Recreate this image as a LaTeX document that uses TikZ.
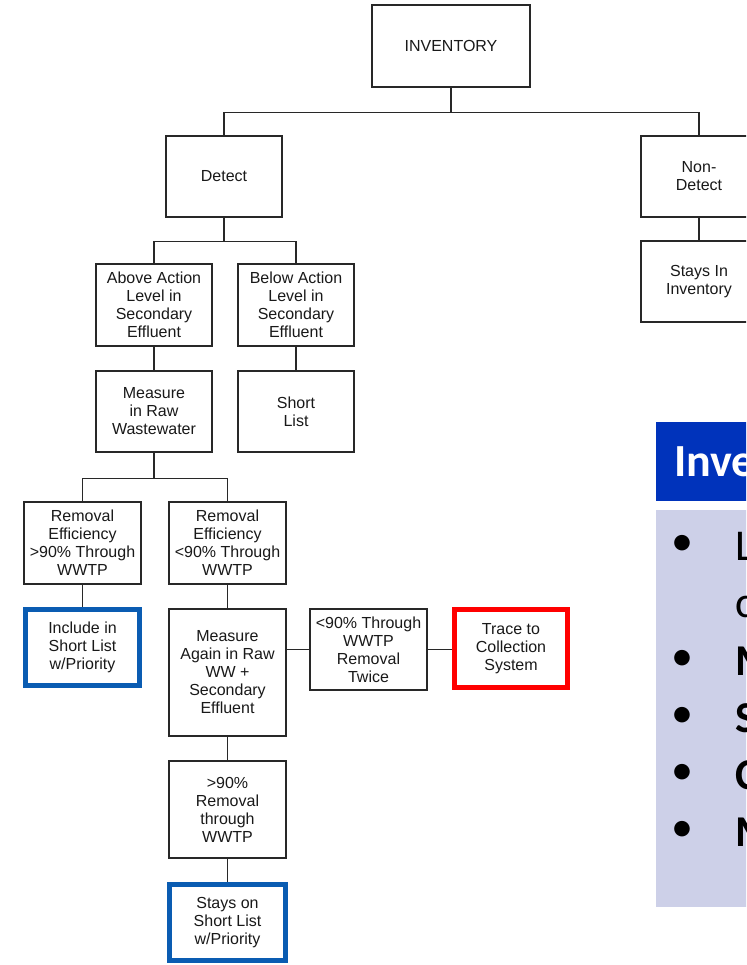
\documentclass[tikz,border=0pt]{standalone}
\usepackage{fontspec}
\setmainfont{Liberation Sans}
\newfontfamily\calib{Carlito}
\definecolor{blueb}{RGB}{10,92,178}
\definecolor{hdrblue}{RGB}{0,51,187}
\definecolor{lav}{RGB}{205,208,232}
\definecolor{ink}{RGB}{40,40,40}
\begin{document}
\begin{tikzpicture}[x=1pt,y=-1pt,
  box/.style={draw=ink, line width=1.4pt, rectangle, inner sep=0pt, align=center,
    font=\fontsize{16}{18}\selectfont, text=black!90},
  bluebox/.style={box, draw=blueb, line width=5pt},
  redbox/.style={box, draw=red, line width=5pt},
  link/.style={draw=ink, line width=1.4pt},
  bul/.style={anchor=base, inner sep=0pt, font=\calib\fontsize{44}{50}\selectfont},
  ptxt/.style={anchor=base west, inner sep=0pt, font=\calib\fontsize{44}{50}\selectfont},
  ptxtb/.style={ptxt, font=\calib\bfseries\fontsize{44}{50}\selectfont}]
\useasboundingbox (0,0) rectangle (746,965);
\fill[white] (0,0) rectangle (746,965);
\clip (0,0) rectangle (746,965);

% flowchart boxes
\node[box, minimum width=158, minimum height=82] (inv) at (451,46) {INVENTORY};
\node[box, minimum width=116, minimum height=81] (det) at (224,176.5) {Detect};
\node[box, minimum width=116, minimum height=81] (nond) at (699,176.5) {Non-\\Detect};
\node[box, minimum width=116, minimum height=81] (stays) at (699,281.5) {Stays In\\Inventory};
\node[box, minimum width=116, minimum height=82] (above) at (154,305) {Above Action\\Level in\\Secondary\\Effluent};
\node[box, minimum width=116, minimum height=82] (below) at (296,305) {Below Action\\Level in\\Secondary\\Effluent};
\node[box, minimum width=116, minimum height=81] (meas) at (154,411.5) {Measure\\in Raw\\Wastewater};
\node[box, minimum width=116, minimum height=81] (short) at (296,411.5) {Short\\List};
\node[box, minimum width=117, minimum height=82] (rem1) at (82.5,543) {Removal\\Efficiency\\>90\% Through\\WWTP};
\node[box, minimum width=117, minimum height=82] (rem2) at (227.5,543) {Removal\\Efficiency\\<90\% Through\\WWTP};
\node[bluebox, minimum width=114, minimum height=76] (incl) at (82.5,647.5) {Include in\\Short List\\w/Priority};
\node[box, minimum width=117, minimum height=127] (again) at (227.5,672.5) {Measure\\Again in Raw\\WW +\\Secondary\\Effluent};
\node[box, minimum width=117, minimum height=81] (twice) at (368.5,649.5) {<90\% Through\\WWTP\\Removal\\Twice};
\node[redbox, minimum width=113, minimum height=78] (trace) at (511,648.5) {Trace to\\Collection\\System};
\node[box, minimum width=117, minimum height=97] (rem3) at (227.5,809.5) {>90\%\\Removal\\through\\WWTP};
\node[bluebox, minimum width=116, minimum height=76] (stayson) at (227.5,922.5) {Stays on\\Short List\\w/Priority};

% connectors
\draw[link] (inv.south) -- ++(0,25) coordinate (j1);
\draw[link] (j1) -| (det.north);
\draw[link] (j1) -| (nond.north);
\draw[link] (nond.south) -- (stays.north);
\draw[link] (det.south) -- ++(0,24) coordinate (j2);
\draw[link] (j2) -| (above.north);
\draw[link] (j2) -| (below.north);
\draw[link] (above.south) -- (meas.north);
\draw[link] (below.south) -- (short.north);
\draw[link] (meas.south) -- ++(0,26) coordinate (j3);
\draw[link] (j3) -| (rem1.north);
\draw[link] (j3) -| (rem2.north);
\draw[link] (rem1.south) -- (incl.north);
\draw[link] (rem2.south) -- (again.north);
\draw[link] (twice.west) -- (twice.west -| again.east);
\draw[link] (twice.east) -- (twice.east -| trace.west);
\draw[link] (again.south) -- (rem3.north);
\draw[link] (rem3.south) -- (stayson.north);

% right panel
\fill[hdrblue] (656,422) rectangle (760,501);
\fill[lav] (656,510) rectangle (760,907);
\node[anchor=base west, inner sep=0pt, text=white, font=\calib\bfseries\fontsize{46}{50}\selectfont] (hdr) at (674,476) {Inve};
\node[bul] (b1) at (682,555) {•};
\node[bul] (b2) at (682,670) {•};
\node[bul] (b3) at (682,727) {•};
\node[bul] (b4) at (682,784) {•};
\node[bul] (b5) at (682,841) {•};
\node[ptxt] (t1) at (735,560) {L};
\node[ptxt] (t1b) at (735,617) {c};
\node[ptxtb] (t2) at (735,675) {M};
\node[ptxtb] (t3) at (735,732) {S};
\node[ptxtb] (t4) at (735,789) {C};
\node[ptxtb] (t5) at (735,846) {M};
\end{tikzpicture}
\end{document}
